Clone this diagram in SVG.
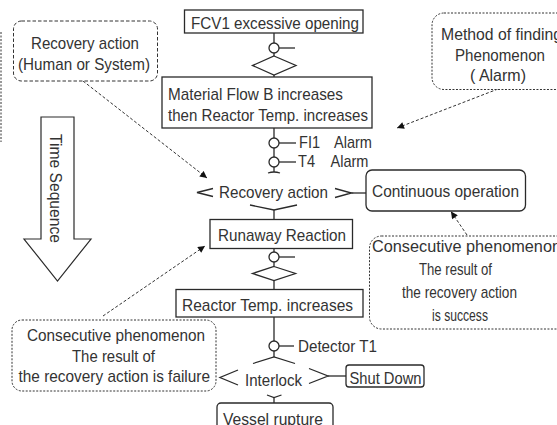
<svg xmlns="http://www.w3.org/2000/svg" width="557" height="425" viewBox="0 0 557 425">
  <defs>
    <style>
      .t { font-family: "Liberation Sans", Arial, sans-serif; font-size: 17px; fill: #333; }
      .box { fill: #fff; stroke: #2a2a2a; stroke-width: 1.3; }
      .note { fill: #fff; stroke: #333; stroke-width: 1; stroke-dasharray: 2 1.5; }
      .note2 { fill: #fff; stroke: #333; stroke-width: 1; stroke-dasharray: 3.5 2; }
      .ln { fill: none; stroke: #2a2a2a; stroke-width: 1.3; }
      .pt { fill: #fff; stroke: #2a2a2a; stroke-width: 1.3; }
      .dash { fill: none; stroke: #333; stroke-width: 1; stroke-dasharray: 3 2; }
    </style>
    <marker id="ah" viewBox="0 0 10 10" refX="10" refY="5" markerWidth="9" markerHeight="7" markerUnits="userSpaceOnUse" orient="auto">
      <path d="M0,0 L10,5 L0,10 Z" fill="#111"/>
    </marker>
  </defs>

  <!-- edge of a note that lies off the left side -->
  <line x1="1" y1="32" x2="1" y2="142" class="note" />

  <!-- time arrow -->
  <g id="time-sequence">
    <polygon points="41,117 74,117 74,239 91,239 57.5,281 24,239 41,239" fill="#fff" stroke="#2a2a2a" stroke-width="1.2"/>
    <text class="t" transform="translate(50,134) rotate(90)" textLength="109" lengthAdjust="spacingAndGlyphs">Time Sequence</text>
  </g>

  <!-- connectors -->
  <g id="connectors">
    <!-- main vertical chain -->
    <line x1="274" y1="33" x2="274" y2="43" class="ln"/>
    <line x1="279" y1="48" x2="295" y2="48" class="ln"/>
    <line x1="274" y1="53" x2="274" y2="56" class="ln"/>
    <line x1="274" y1="75" x2="274" y2="77" class="ln"/>
    <line x1="274" y1="128" x2="274" y2="138" class="ln"/>
    <line x1="279" y1="143" x2="296" y2="143" class="ln"/>
    <line x1="274" y1="148" x2="274" y2="157" class="ln"/>
    <line x1="279" y1="162" x2="296" y2="162" class="ln"/>
    <line x1="274" y1="167" x2="274" y2="172" class="ln"/>
    <path d="M268,173 Q274,171 280,173" class="ln"/>
    <!-- recovery action gate -->
    <polyline points="213,188.5 197,192.5 213,196.5" class="ln"/>
    <polyline points="335,188.5 351.5,193 335,197.5" class="ln"/>
    <line x1="351.5" y1="193" x2="366" y2="193" class="ln"/>
    <polyline points="250,205 274,210 297,205" class="ln"/>
    <line x1="274" y1="210" x2="274" y2="219" class="ln"/>
    <line x1="274" y1="248" x2="274" y2="252" class="ln"/>
    <line x1="279" y1="257" x2="295" y2="257" class="ln"/>
    <line x1="274" y1="262" x2="274" y2="266.5" class="ln"/>
    <line x1="274" y1="280.5" x2="274" y2="289" class="ln"/>
    <line x1="274" y1="317" x2="274" y2="341" class="ln"/>
    <line x1="279" y1="346" x2="294" y2="346" class="ln"/>
    <line x1="274" y1="351" x2="274" y2="357" class="ln"/>
    <!-- interlock gate -->
    <polyline points="253,363.5 274,357 295,363.5" class="ln"/>
    <polyline points="238,370 220,377.5 238,385" class="ln"/>
    <polyline points="309,368.5 328,376 309,383.5" class="ln"/>
    <line x1="328" y1="376" x2="346" y2="376" class="ln"/>
    <polyline points="267,395 274,397.5 281.5,395" class="ln"/>
    <line x1="274" y1="397.5" x2="274" y2="403" class="ln"/>

    <!-- junction circles and diamonds -->
    <circle cx="274" cy="48" r="5" class="pt"/>
    <polygon points="274,56 296,65.5 274,75 252.5,65.5" class="pt"/>
    <circle cx="274" cy="143" r="5" class="pt"/>
    <circle cx="274" cy="162" r="5" class="pt"/>
    <circle cx="274" cy="257" r="5" class="pt"/>
    <polygon points="274,266.5 295.5,273.5 274,280.5 252.5,273.5" class="pt"/>
    <circle cx="274" cy="346" r="5" class="pt"/>

    <!-- annotation pointers -->
    <line x1="83" y1="81" x2="207" y2="178" class="dash" marker-end="url(#ah)"/>
    <line x1="498" y1="89" x2="397" y2="128" class="dash" marker-end="url(#ah)"/>
    <line x1="467" y1="235" x2="451" y2="211.5" class="dash" marker-end="url(#ah)"/>
    <line x1="103" y1="316" x2="205" y2="246" class="dash" marker-end="url(#ah)"/>
  </g>

  <!-- flow nodes -->
  <g id="fcv1">
    <rect x="184.5" y="10" width="178.5" height="23" class="box"/>
    <text class="t" x="191" y="29" textLength="168" lengthAdjust="spacingAndGlyphs">FCV1 excessive opening</text>
  </g>
  <g id="material-flow">
    <rect x="162" y="77" width="210" height="51" class="box"/>
    <text class="t" x="168" y="100" textLength="175" lengthAdjust="spacingAndGlyphs">Material Flow B increases</text>
    <text class="t" x="168" y="120.5" textLength="200" lengthAdjust="spacingAndGlyphs">then Reactor Temp. increases</text>
  </g>
  <g id="fi1-alarm">
    <text class="t" x="299" y="147.5" textLength="21" lengthAdjust="spacingAndGlyphs">FI1</text>
    <text class="t" x="334" y="147.5" textLength="38" lengthAdjust="spacingAndGlyphs">Alarm</text>
  </g>
  <g id="t4-alarm">
    <text class="t" x="298" y="166.5" textLength="17" lengthAdjust="spacingAndGlyphs">T4</text>
    <text class="t" x="330.5" y="166.5" textLength="38" lengthAdjust="spacingAndGlyphs">Alarm</text>
  </g>
  <g id="recovery-action">
    <text class="t" x="219" y="197.5" textLength="109" lengthAdjust="spacingAndGlyphs">Recovery action</text>
  </g>
  <g id="continuous-operation">
    <rect x="366" y="170" width="159.5" height="41" rx="6" class="box"/>
    <text class="t" x="372" y="196.5" textLength="147" lengthAdjust="spacingAndGlyphs">Continuous operation</text>
  </g>
  <g id="runaway-reaction">
    <rect x="210" y="219.5" width="142.5" height="29" class="box"/>
    <text class="t" x="218" y="241" textLength="128" lengthAdjust="spacingAndGlyphs">Runaway Reaction</text>
  </g>
  <g id="reactor-temp">
    <rect x="176" y="289.5" width="187" height="27.5" class="box"/>
    <text class="t" x="182" y="310.5" textLength="171" lengthAdjust="spacingAndGlyphs">Reactor Temp. increases</text>
  </g>
  <g id="detector-t1">
    <text class="t" x="298" y="352" textLength="79" lengthAdjust="spacingAndGlyphs">Detector T1</text>
  </g>
  <g id="interlock">
    <text class="t" x="245" y="385.5" textLength="57" lengthAdjust="spacingAndGlyphs">Interlock</text>
  </g>
  <g id="shut-down">
    <rect x="346" y="365" width="78" height="22" rx="3" class="box"/>
    <text class="t" x="349.5" y="384" textLength="72" lengthAdjust="spacingAndGlyphs">Shut Down</text>
  </g>
  <g id="vessel-rupture">
    <rect x="217" y="403" width="116" height="40" rx="4" class="box"/>
    <text class="t" x="223" y="424.5" textLength="100" lengthAdjust="spacingAndGlyphs">Vessel rupture</text>
  </g>

  <!-- notes -->
  <g id="note-recovery">
    <rect x="13.5" y="21" width="144" height="60" rx="8" class="note2"/>
    <text class="t" x="85" y="48.5" text-anchor="middle" textLength="108" lengthAdjust="spacingAndGlyphs">Recovery action</text>
    <text class="t" x="84" y="70" text-anchor="middle" textLength="132" lengthAdjust="spacingAndGlyphs">(Human or System)</text>
  </g>
  <g id="note-method">
    <rect x="432" y="13" width="140" height="76.5" rx="12" class="note"/>
    <text class="t" x="441" y="39.5" textLength="121" lengthAdjust="spacingAndGlyphs">Method of finding</text>
    <text class="t" x="455" y="60.5" textLength="90" lengthAdjust="spacingAndGlyphs">Phenomenon</text>
    <text class="t" x="470" y="81" textLength="56" lengthAdjust="spacingAndGlyphs">( Alarm)</text>
  </g>
  <g id="note-success">
    <rect x="369.5" y="236" width="200" height="93" rx="12" class="note"/>
    <text class="t" x="372" y="251.5" textLength="189" lengthAdjust="spacingAndGlyphs">Consecutive phenomenon</text>
    <text class="t" x="419" y="274.5" textLength="73" lengthAdjust="spacingAndGlyphs">The result of</text>
    <text class="t" x="402" y="298" textLength="115" lengthAdjust="spacingAndGlyphs">the recovery action</text>
    <text class="t" x="432" y="320.5" textLength="56" lengthAdjust="spacingAndGlyphs">is success</text>
  </g>
  <g id="note-failure">
    <rect x="12" y="320" width="204" height="71" rx="10" class="note"/>
    <text class="t" x="27" y="340.5" textLength="178" lengthAdjust="spacingAndGlyphs">Consecutive phenomenon</text>
    <text class="t" x="72" y="361.5" textLength="83" lengthAdjust="spacingAndGlyphs">The result of</text>
    <text class="t" x="18.5" y="382" textLength="191.5" lengthAdjust="spacingAndGlyphs">the recovery action is failure</text>
  </g>
</svg>
